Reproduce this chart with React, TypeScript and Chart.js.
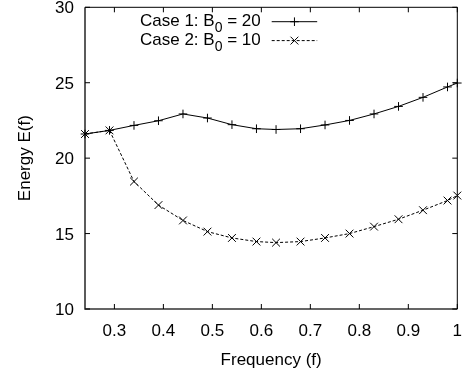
import React, { useEffect, useRef } from "react";
import { Chart, registerables } from "chart.js";

Chart.register(...registerables);

const freq = [0.24, 0.29, 0.34, 0.39, 0.44, 0.49, 0.54, 0.59, 0.63, 0.68, 0.73, 0.78, 0.83, 0.88, 0.93, 0.98, 1.0];
const case1 = [21.6, 21.84, 22.17, 22.48, 22.93, 22.66, 22.22, 21.95, 21.9, 21.95, 22.2, 22.5, 22.93, 23.43, 24.03, 24.72, 24.98];
const case2 = [21.6, 21.84, 18.45, 16.89, 15.87, 15.13, 14.71, 14.47, 14.4, 14.47, 14.71, 15.0, 15.46, 15.95, 16.55, 17.19, 17.52];
const seriesLabels = ["Case 1: B₀ = 20", "Case 2: B₀ = 10"];
const xTicks = [0.3, 0.4, 0.5, 0.6, 0.7, 0.8, 0.9, 1.0];
const xTickLabels = ["0.3", "0.4", "0.5", "0.6", "0.7", "0.8", "0.9", "1"];
const yTicks = [10, 15, 20, 25, 30];
const yTickLabels = ["10", "15", "20", "25", "30"];
const xTitle = "Frequency (f)";
const yTitle = "Energy E(f)";

const FAMILY = "'Liberation Sans', Arial, Helvetica, sans-serif";
const FS = 17;

export default function App() {
  const ref = useRef<HTMLCanvasElement>(null);

  useEffect(() => {
    const canvas = ref.current!;
    const values = [case1, case2];
    const datasets = seriesLabels.map((label, i) => ({
      label,
      data: freq.map((f, j) => ({ x: f, y: values[i][j] })),
      borderColor: "#000",
      backgroundColor: "#000",
      borderWidth: 1,
      borderDash: i === 1 ? [3, 2] : [],
      pointStyle: i === 0 ? "cross" : "crossRot",
      pointRadius: i === 0 ? 4.3 : 5.5,
      pointBorderWidth: 1,
      pointBorderColor: "#000",
      tension: 0,
      clip: false as any,
    }));

    const framePlugin = {
      id: "frame",
      beforeDatasetsDraw(chart: any) {
        const ctx = chart.ctx;
        const { left, right, top, bottom } = chart.chartArea;
        const xs = chart.scales.x;
        const ys = chart.scales.y;
        ctx.save();
        ctx.strokeStyle = "#000";
        ctx.setLineDash([]);
        ctx.lineWidth = 1;
        ctx.beginPath();
        ctx.moveTo(left, top);
        ctx.lineTo(right, top);
        ctx.lineTo(right, bottom);
        ctx.stroke();
        ctx.strokeStyle = "#333";
        ctx.lineWidth = 1.6;
        ctx.beginPath();
        ctx.moveTo(right, bottom);
        ctx.lineTo(left, bottom);
        ctx.lineTo(left, top);
        ctx.stroke();
        ctx.strokeStyle = "#000";
        ctx.lineWidth = 1;
        const tl = 5;
        ctx.beginPath();
        xs.ticks.forEach((t: any) => {
          const px = xs.getPixelForValue(t.value);
          ctx.moveTo(px, bottom);
          ctx.lineTo(px, bottom - tl);
          ctx.moveTo(px, top);
          ctx.lineTo(px, top + tl);
        });
        ys.ticks.forEach((t: any) => {
          const py = ys.getPixelForValue(t.value);
          ctx.moveTo(left, py);
          ctx.lineTo(left + tl, py);
          ctx.moveTo(right, py);
          ctx.lineTo(right - tl, py);
        });
        ctx.stroke();
        ctx.restore();
      },
    };

    const legendPlugin = {
      id: "customLegend",
      afterDraw(chart: any) {
        const ctx = chart.ctx;
        const textRight = 260.7;
        const lineX0 = 271.7;
        const lineX1 = 317.2;
        const rows = [21.7, 40.6];
        ctx.save();
        chart.data.datasets.forEach((ds: any, i: number) => {
          const yLine = rows[i];
          const yBase = yLine + 4.6;
          const [pre, post] = String(ds.label).split("₀");
          const mainFont = `${FS}px ${FAMILY}`;
          const subFont = `14px ${FAMILY}`;
          ctx.font = mainFont;
          const wPre = ctx.measureText(pre).width;
          const wPost = ctx.measureText(post).width;
          ctx.font = subFont;
          const wSub = ctx.measureText("0").width;
          let x = textRight - (wPre + wSub + wPost);
          ctx.fillStyle = "#000";
          ctx.textBaseline = "alphabetic";
          ctx.textAlign = "left";
          ctx.font = mainFont;
          ctx.fillText(pre, x, yBase);
          x += wPre;
          ctx.font = subFont;
          ctx.fillText("0", x, yBase + 6);
          x += wSub;
          ctx.font = mainFont;
          ctx.fillText(post, x, yBase);
          ctx.strokeStyle = "#000";
          ctx.lineWidth = 1;
          ctx.setLineDash(ds.borderDash || []);
          ctx.beginPath();
          ctx.moveTo(lineX0, yLine);
          ctx.lineTo(lineX1, yLine);
          ctx.stroke();
          ctx.setLineDash([]);
          const cx = (lineX0 + lineX1) / 2;
          ctx.beginPath();
          if (ds.pointStyle === "cross") {
            const r = ds.pointRadius;
            ctx.moveTo(cx - r, yLine);
            ctx.lineTo(cx + r, yLine);
            ctx.moveTo(cx, yLine - r);
            ctx.lineTo(cx, yLine + r);
          } else {
            const r = ds.pointRadius * Math.SQRT1_2;
            ctx.moveTo(cx - r, yLine - r);
            ctx.lineTo(cx + r, yLine + r);
            ctx.moveTo(cx - r, yLine + r);
            ctx.lineTo(cx + r, yLine - r);
          }
          ctx.stroke();
        });
        ctx.restore();
      },
    };

    const chart = new Chart(canvas, {
      type: "line",
      data: { datasets: datasets as any },
      options: {
        responsive: false,
        animation: false,
        devicePixelRatio: 1,
        layout: { padding: { top: 7.3, right: 11.7, left: 0, bottom: 0 } },
        plugins: { legend: { display: false }, tooltip: { enabled: false } },
        scales: {
          x: {
            type: "linear",
            min: 0.24,
            max: 1.0,
            afterBuildTicks: (s: any) => {
              s.ticks = xTicks.map((v) => ({ value: v }));
            },
            afterFit: (s: any) => {
              s.height = 63;
            },
            ticks: {
              callback: (_v: any, idx: number) => xTickLabels[idx],
              font: { family: FAMILY, size: FS },
              color: "#000",
              padding: 0,
              maxRotation: 0,
              autoSkip: false,
            },
            grid: {
              display: true,
              drawOnChartArea: false,
              drawTicks: true,
              tickLength: 12.5,
              tickColor: "rgba(0,0,0,0)",
            },
            border: { display: false },
            title: {
              display: true,
              text: xTitle,
              font: { family: FAMILY, size: FS },
              color: "#000",
              padding: { top: 0, bottom: 1.5 },
            },
          },
          y: {
            type: "linear",
            min: 10,
            max: 30,
            afterBuildTicks: (s: any) => {
              s.ticks = yTicks.map((v) => ({ value: v }));
            },
            afterFit: (s: any) => {
              s.width = 85;
            },
            ticks: {
              callback: (_v: any, idx: number) => yTickLabels[idx],
              font: { family: FAMILY, size: FS, lineHeight: 0.8 },
              color: "#000",
              padding: 0,
              labelOffset: 1.5,
              autoSkip: false,
            },
            grid: {
              display: true,
              drawOnChartArea: false,
              drawTicks: true,
              tickLength: 11,
              tickColor: "rgba(0,0,0,0)",
            },
            border: { display: false },
            title: {
              display: true,
              text: yTitle,
              font: { family: FAMILY, size: FS },
              color: "#000",
              padding: { top: 14.8, bottom: 0 },
            },
          },
        },
      },
      plugins: [framePlugin, legendPlugin],
    });

    return () => chart.destroy();
  }, []);

  return (
    <div style={{ position: "absolute", left: 0, top: 0, width: 469, height: 372, background: "#fff" }}>
      <canvas ref={ref} width={469} height={372} style={{ display: "block", width: 469, height: 372 }} />
    </div>
  );
}
